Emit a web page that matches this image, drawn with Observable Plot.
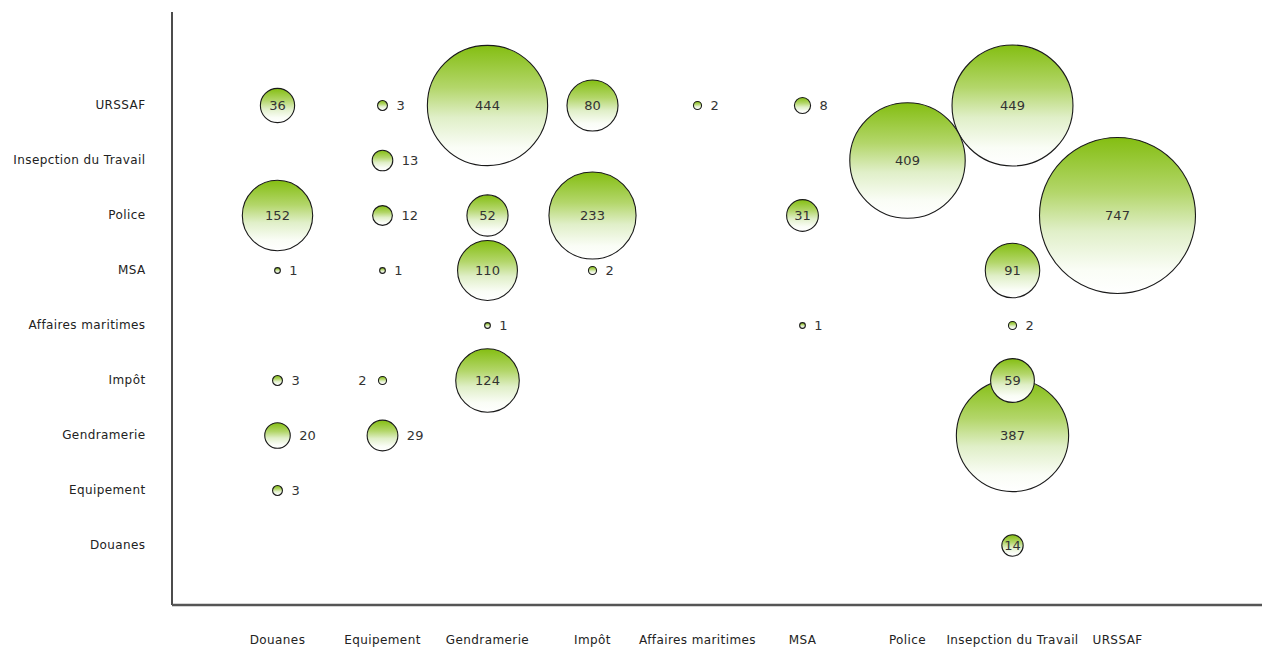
<!DOCTYPE html>
<html><head><meta charset="utf-8">
<script src="https://cdn.jsdelivr.net/npm/d3@7"></script>
<script src="https://cdn.jsdelivr.net/npm/@observablehq/plot@0.6"></script>
<style>
body{margin:0;background:#fff;}
</style>
</head><body><div id="chart"></div>
<script>
// Row categories (y axis, top to bottom)
const rowCategories = ["URSSAF","Insepction du Travail","Police","MSA","Affaires maritimes","Impôt","Gendramerie","Equipement","Douanes"];
// Column categories (x axis, left to right)
const columnCategories = ["Douanes","Equipement","Gendramerie","Impôt","Affaires maritimes","MSA","Police","Insepction du Travail","URSSAF"];

// Cells: column, row, value
const cellColumn = [
  "Douanes","Douanes","Douanes","Douanes","Douanes","Douanes",
  "Equipement","Equipement","Equipement","Equipement","Equipement","Equipement",
  "Gendramerie","Gendramerie","Gendramerie","Gendramerie","Gendramerie",
  "Impôt","Impôt","Impôt",
  "Affaires maritimes",
  "MSA","MSA","MSA",
  "Police",
  "Insepction du Travail","Insepction du Travail","Insepction du Travail","Insepction du Travail","Insepction du Travail","Insepction du Travail",
  "URSSAF"
];
const cellRow = [
  "URSSAF","Police","MSA","Impôt","Gendramerie","Equipement",
  "URSSAF","Insepction du Travail","Police","MSA","Impôt","Gendramerie",
  "URSSAF","Police","MSA","Affaires maritimes","Impôt",
  "URSSAF","Police","MSA",
  "URSSAF",
  "URSSAF","Police","Affaires maritimes",
  "Insepction du Travail",
  "URSSAF","MSA","Affaires maritimes","Impôt","Gendramerie","Douanes",
  "Police"
];
const cellValue = [
  36,152,1,3,20,3,
  3,13,12,1,2,29,
  444,52,110,1,124,
  80,233,2,
  2,
  8,31,1,
  409,
  449,91,2,59,387,14,
  747
];

const data = cellValue.map((v, i) => ({col: cellColumn[i], row: cellRow[i], value: v}));

// layout constants
const W = 1262, H = 649;
const mL = 172, mR = 0, mT = 12, mB = 44;
const rDomain = [0, 747], rRange = [0, 78];
const rOf = d3.scaleSqrt().domain(rDomain).range(rRange);

// label placement rules
const insideThreshold = 30;
const insideExceptions = [["Insepction du Travail","Douanes"]];
const leftExceptions = [["Equipement","Impôt"]];
const isIn = (list, d) => list.some(([c, r]) => c === d.col && r === d.row);
const placement = d => isIn(leftExceptions, d) ? "left"
  : (d.value >= insideThreshold || isIn(insideExceptions, d)) ? "inside" : "right";

const font = "'DejaVu Sans', Verdana, sans-serif";

const outsideMarks = data.filter(d => placement(d) !== "inside").map(d => {
  const left = placement(d) === "left";
  return Plot.text([d], {
    x: "col", y: "row", text: d => String(d.value),
    dx: left ? -(rOf(d.value) + 12) : rOf(d.value) + 9,
    textAnchor: left ? "end" : "start",
    fontSize: 13, fill: "#333"
  });
});

const svg = Plot.plot({
  width: W, height: H,
  marginLeft: mL, marginRight: mR, marginTop: mT, marginBottom: mB,
  style: {fontFamily: font, fontSize: "12px", color: "#222", background: "#fff"},
  x: {type: "point", domain: columnCategories, range: [276, 1118], padding: 0, label: null},
  y: {type: "point", domain: rowCategories, range: [101, 548], padding: 0, label: null},
  r: {type: "sqrt", domain: rDomain, range: rRange},
  marks: [
    Plot.axisY({anchor: "left", tickSize: 0, tickPadding: 27, fontSize: 12}),
    Plot.axisX({anchor: "bottom", tickSize: 0, tickPadding: 30, fontSize: 12}),
    Plot.dot(data, {x: "col", y: "row", r: "value", fill: "url(#bubbleGrad)", stroke: "#1a1a1a", strokeWidth: 1.1}),
    Plot.text(data.filter(d => placement(d) === "inside"), {
      x: "col", y: "row", text: d => String(d.value), fontSize: 13, fill: "#333"
    }),
    ...outsideMarks
  ]
});

const s = d3.select(svg);
const defs = s.insert("defs", ":first-child");
const g = defs.append("linearGradient").attr("id", "bubbleGrad")
  .attr("x1", 0).attr("y1", 0).attr("x2", 0).attr("y2", 1);
[[0, "#84be12"], [0.35, "#b3d66a"], [0.6, "#e0efc8"], [0.85, "#fafdf6"], [1, "#ffffff"]]
  .forEach(([o, c]) => g.append("stop").attr("offset", o).attr("stop-color", c));

s.selectAll('[aria-label="y-axis tick label"] text, [aria-label="x-axis tick label"] text')
  .style("letter-spacing", "0.4px");

// axis lines along the frame
s.append("line").attr("x1", mL).attr("x2", mL).attr("y1", mT).attr("y2", H - mB)
  .attr("stroke", "#111").attr("stroke-width", 1.5);
s.append("line").attr("x1", mL).attr("x2", W - mR).attr("y1", H - mB).attr("y2", H - mB)
  .attr("stroke", "#555").attr("stroke-width", 2.5);

document.getElementById("chart").appendChild(svg);
</script>
</body></html>
